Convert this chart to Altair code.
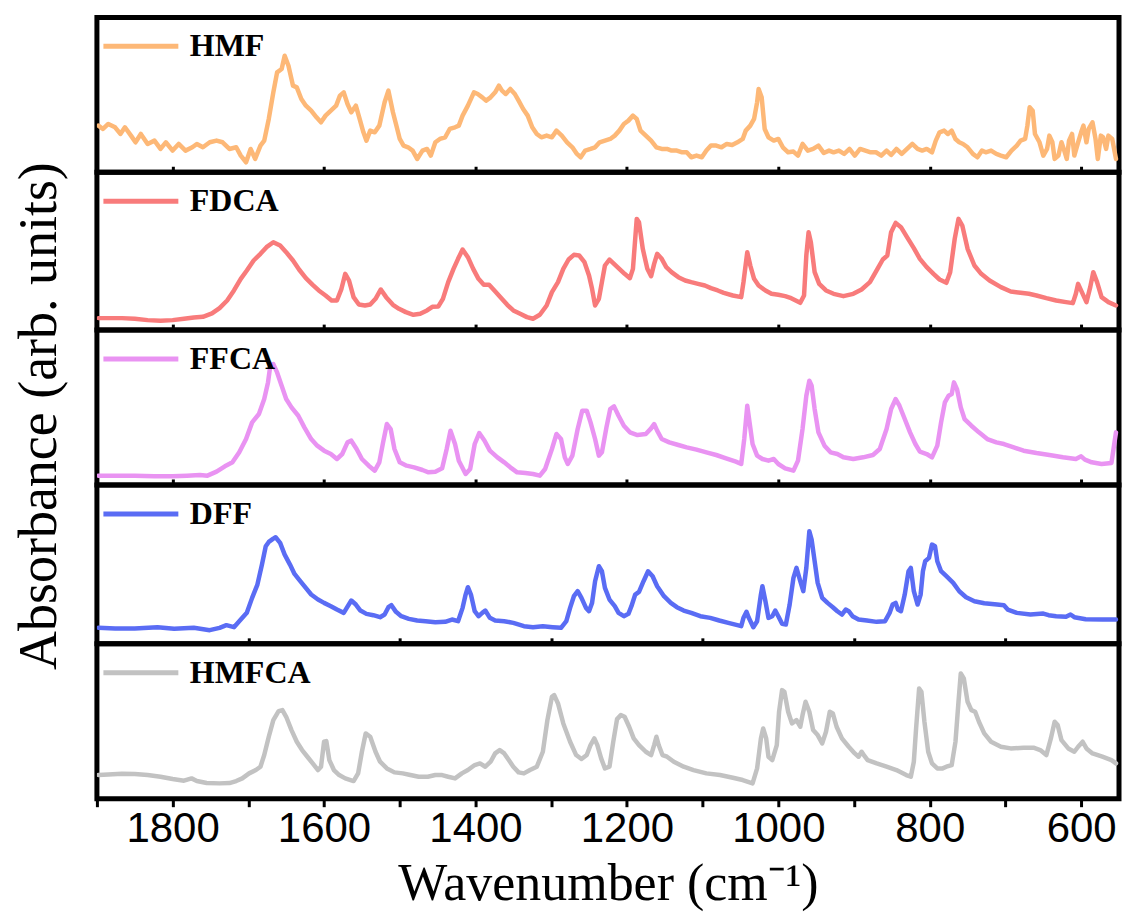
import altair as alt
import pandas as pd

# FTIR absorbance spectra (arbitrary units), wavenumber in cm-1
hmf_wn = [1898, 1892, 1885, 1876, 1869, 1863, 1855, 1849, 1842, 1833, 1824, 1816, 1809, 1800, 1792, 1783,
          1774, 1768, 1760, 1751, 1742, 1734, 1725, 1716, 1710, 1703, 1697, 1691, 1684, 1679, 1673, 1667,
          1662, 1656, 1652, 1647, 1641, 1636, 1630, 1624, 1617, 1610, 1604, 1598, 1591, 1584, 1579, 1574,
          1569, 1564, 1558, 1553, 1548, 1544, 1539, 1533, 1527, 1520, 1515, 1509, 1505, 1500, 1495, 1489,
          1483, 1477, 1470, 1464, 1459, 1453, 1447, 1440, 1434, 1427, 1422, 1417, 1410, 1402, 1397, 1391,
          1386, 1380, 1374, 1369, 1365, 1360, 1354, 1348, 1343, 1337, 1331, 1325, 1319, 1313, 1306, 1299,
          1293, 1286, 1279, 1272, 1266, 1261, 1255, 1248, 1242, 1236, 1229, 1222, 1216, 1210, 1204, 1198,
          1192, 1187, 1182, 1175, 1168, 1161, 1154, 1147, 1141, 1134, 1127, 1121, 1115, 1108, 1101, 1095,
          1089, 1082, 1075, 1068, 1061, 1054, 1047, 1043, 1037, 1032, 1028, 1026, 1022, 1018, 1013, 1006,
          1000, 994, 987, 980, 974, 968, 961, 954, 947, 940, 933, 927, 920, 913, 906, 899,
          892, 885, 878, 871, 864, 857, 851, 844, 837, 830, 823, 816, 810, 804, 797, 792,
          787, 781, 776, 771, 766, 761, 756, 750, 743, 737, 731, 726, 719, 712, 706, 699,
          692, 685, 680, 674, 671, 668, 664, 661, 655, 650, 645, 642, 638, 635, 630, 626,
          623, 619, 616, 612, 609, 604, 600, 597, 593, 590, 585, 581, 578, 574, 571, 567,
          564, 559, 554]
hmf_abs = [28, 26, 29, 27, 23, 27, 22, 18, 23, 17, 19, 14, 18, 13, 17, 13,
           15, 17, 15, 18, 19, 18, 14, 15, 10, 6, 14, 8, 16, 19, 32, 48,
           60, 62, 70, 64, 52, 51, 44, 40, 37, 33, 30, 34, 37, 40, 46, 48,
           41, 36, 40, 32, 24, 19, 25, 24, 28, 42, 49, 36, 29, 20, 16, 15,
           13, 8, 13, 14, 10, 18, 20, 21, 26, 27, 28, 34, 40, 48, 47, 45,
           43, 45, 48, 52, 49, 47, 50, 47, 43, 38, 34, 27, 23, 21, 22, 21,
           25, 22, 18, 15, 11, 9, 13, 14, 15, 18, 19, 20, 22, 25, 29, 31,
           34, 32, 25, 22, 19, 15, 14, 14, 13, 13, 12, 12, 9, 10, 9, 13,
           16, 16, 15, 17, 16.4, 18, 20, 25, 28, 32, 42, 50, 45, 26, 21, 19,
           20, 15, 12, 12.4, 10, 17, 13, 14, 16, 11.6, 13, 12, 13, 11, 14, 10,
           14, 13, 12, 12, 10, 13, 10.4, 14, 11, 14, 17, 14, 13, 14, 12, 19,
           24, 25, 23, 25, 20, 18, 17, 15, 11, 9, 13, 12, 13, 11, 10, 9,
           13, 16, 19, 20, 28, 39, 37, 23, 18, 10, 14, 22, 18, 8, 10, 18,
           14, 8, 19, 23, 10, 18, 24, 28, 18, 26, 30, 20, 8, 22, 21, 14,
           22, 20, 8]

fdca_wn = [1898, 1885, 1867, 1850, 1833, 1816, 1800, 1785, 1772, 1760, 1748, 1738, 1728, 1719, 1710, 1702,
           1693, 1684, 1676, 1667, 1658, 1650, 1641, 1633, 1624, 1615, 1607, 1598, 1590, 1583, 1577, 1572,
           1567, 1561, 1554, 1546, 1539, 1532, 1525, 1518, 1509, 1501, 1492, 1482, 1473, 1464, 1457, 1449,
           1443, 1436, 1429, 1423, 1417, 1410, 1403, 1396, 1389, 1382, 1375, 1367, 1358, 1350, 1341, 1332,
           1324, 1315, 1306, 1299, 1291, 1284, 1277, 1270, 1263, 1256, 1250, 1246, 1242, 1237, 1233, 1229,
           1223, 1217, 1210, 1203, 1196, 1192, 1187, 1184, 1179, 1173, 1168, 1164, 1160, 1154, 1148, 1141,
           1132, 1123, 1115, 1106, 1097, 1089, 1080, 1072, 1060, 1049, 1046, 1041, 1037, 1032, 1026, 1017,
           1009, 1000, 991, 983, 971, 966, 963, 960, 957, 952, 946, 937, 927, 914, 901, 890,
           879, 869, 862, 856, 851, 845, 838, 830, 821, 813, 804, 795, 787, 778, 773, 767,
           762, 757, 750, 741, 732, 721, 706, 693, 680, 669, 659, 646, 633, 620, 611, 607,
           604, 598, 593, 588, 584, 579, 573, 564, 554]
fdca_abs = [7.2, 7.2, 7.2, 6.8, 6, 5.6, 6, 6.8, 7.6, 8, 10, 13.2, 17.8, 23.8, 30.8, 35.8,
            41.8, 45.8, 49.8, 52.8, 50.8, 46.8, 41.8, 36.4, 31.2, 27.2, 23.8, 20.8, 17.8, 17.8, 24.8, 33.8,
            29.8, 19.8, 15.4, 14.8, 15.4, 18.8, 24.4, 19.8, 15.2, 12.8, 10.8, 9.2, 9.8, 11.8, 14, 14.2,
            18.8, 28.8, 36.8, 42.8, 48.4, 43.8, 36.8, 30.8, 27.2, 27.2, 23.8, 19.8, 15.2, 11.8, 9.8, 7.8,
            6.8, 9.2, 14.8, 22.8, 28.8, 36.8, 42.4, 45.2, 44.8, 40.8, 32.8, 24.8, 14.8, 18.8, 28.8, 38.8,
            42.4, 39.8, 36.8, 33.8, 31.2, 36.8, 66.8, 64.8, 48.8, 36.8, 32.4, 39.8, 45.8, 42.8, 37.8, 34.8,
            31.8, 29.8, 28.8, 27.8, 26.8, 25.2, 23.8, 22.4, 20.8, 19.8, 28.8, 46.8, 38.8, 30.8, 26.8, 23.8,
            21.8, 21.2, 20.4, 19.2, 16.4, 20.8, 44.8, 58.8, 52.8, 34.8, 27.8, 23.8, 21.8, 20.4, 21.8, 24.4,
            28.8, 36.8, 42.4, 44.8, 58.8, 64.4, 61.8, 55.8, 49.2, 42.8, 37.8, 33.8, 30.4, 28.4, 34.8, 54.8,
            66.8, 62.8, 48.8, 38.8, 33.8, 29.8, 25.8, 23.2, 22.4, 21.8, 20.8, 19.2, 17.8, 16.8, 16.2, 21.8,
            27.8, 21.8, 16.8, 25.8, 34.8, 28.8, 19.8, 16.8, 14.8]

ffca_wn = [1898, 1876, 1850, 1824, 1800, 1781, 1764, 1754, 1742, 1731, 1721, 1712, 1703, 1695, 1686, 1679,
           1674, 1671, 1667, 1662, 1656, 1650, 1643, 1634, 1626, 1617, 1609, 1600, 1591, 1583, 1576, 1569,
           1564, 1557, 1550, 1541, 1533, 1527, 1522, 1517, 1512, 1507, 1500, 1491, 1481, 1470, 1462, 1453,
           1444, 1438, 1433, 1427, 1422, 1413, 1407, 1401, 1395, 1388, 1381, 1371, 1362, 1354, 1345, 1334,
           1324, 1315, 1308, 1299, 1293, 1287, 1282, 1278, 1272, 1265, 1259, 1253, 1248, 1242, 1237, 1233,
           1227, 1222, 1217, 1211, 1204, 1196, 1186, 1175, 1168, 1164, 1160, 1154, 1144, 1132, 1121, 1108,
           1095, 1082, 1069, 1056, 1049, 1045, 1041, 1038, 1034, 1028, 1021, 1013, 1006, 1000, 991, 980,
           974, 968, 963, 959, 956, 952, 947, 939, 931, 922, 914, 901, 888, 875, 866, 857,
           851, 845, 840, 833, 826, 819, 813, 804, 797, 790, 785, 780, 775, 771, 768, 764,
           759, 754, 745, 735, 724, 712, 702, 689, 676, 659, 642, 624, 607, 600, 595, 586,
           573, 560, 554]
ffca_abs = [5.6, 5.6, 5.6, 5.2, 5.2, 5.6, 6, 5.6, 8, 11.2, 13.6, 19.6, 27.6, 37.6, 42.6, 51.6,
            61.6, 71.6, 72.6, 67.6, 59.6, 51.6, 46.6, 41.6, 34.6, 27.6, 23.6, 20.6, 18.6, 15.6, 18.6, 25.6,
            26.6, 21.6, 15.6, 11.6, 8.6, 13.6, 25.6, 36.6, 33.6, 21.6, 13.6, 11.6, 10.6, 9, 7.6, 8,
            10, 21.6, 32.6, 24.6, 14.6, 6.6, 9.6, 24.6, 31.2, 26.6, 20.6, 16.6, 13.6, 10.6, 7.6, 7.2,
            6.6, 5.6, 9.6, 21.6, 30.6, 27.6, 16.6, 12.6, 17.6, 33.6, 44.6, 44.6, 37.6, 27.6, 17.6, 19.6,
            34.6, 45.6, 47.2, 41.6, 35.6, 31.6, 30, 30.6, 34, 36.6, 32.6, 27.6, 25.6, 24, 22.6, 21.2,
            19.6, 18, 16, 14, 12.6, 27.6, 47.6, 37.6, 24.6, 17.6, 15.6, 14.6, 15.6, 12.6, 10, 8.6,
            14.6, 33.6, 53.6, 62.6, 59.6, 45.6, 31.6, 23.6, 19.6, 18.6, 16.6, 15.6, 16.6, 18, 21.6, 33.6,
            45.6, 51.6, 47.6, 39.6, 31.6, 24.6, 20, 18.6, 16.6, 23.6, 37.6, 49.6, 53.6, 54.6, 61.6, 57.6,
            46.6, 39.6, 35.6, 31.6, 27.6, 25.6, 24.6, 22.6, 20.6, 19.2, 18, 16.6, 15.6, 17.2, 15.2, 13.6,
            12.6, 13.2, 31.6]

dff_wn = [1898, 1876, 1850, 1820, 1798, 1772, 1751, 1738, 1729, 1719, 1710, 1702, 1695, 1688, 1682, 1677,
          1673, 1667, 1664, 1658, 1652, 1645, 1639, 1633, 1626, 1617, 1608, 1600, 1591, 1583, 1574, 1570,
          1564, 1558, 1552, 1544, 1535, 1526, 1520, 1515, 1511, 1505, 1498, 1488, 1477, 1466, 1453, 1440,
          1431, 1423, 1417, 1413, 1410, 1406, 1401, 1396, 1391, 1387, 1381, 1374, 1362, 1350, 1336, 1324,
          1311, 1298, 1287, 1280, 1275, 1270, 1265, 1260, 1254, 1250, 1246, 1242, 1237, 1233, 1229, 1223,
          1216, 1211, 1204, 1198, 1194, 1189, 1184, 1178, 1172, 1166, 1160, 1151, 1142, 1134, 1125, 1115,
          1103, 1090, 1078, 1066, 1054, 1049, 1046, 1042, 1039, 1033, 1028, 1023, 1021, 1017, 1013, 1008,
          1004, 1000, 995, 990, 985, 980, 976, 971, 967, 963, 959, 956, 952, 948, 942, 935,
          928, 922, 916, 911, 907, 902, 894, 883, 870, 859, 853, 849, 845, 842, 838, 833,
          828, 825, 821, 816, 812, 809, 806, 801, 797, 793, 790, 785, 778, 769, 761, 752,
          741, 728, 711, 702, 697, 685, 667, 650, 643, 633, 620, 614, 609, 594, 572, 554]
dff_abs = [9.6, 9.2, 9.2, 10, 9, 9.6, 8.2, 9.6, 11.2, 10, 14.6, 18.6, 27.6, 35.6, 47.6, 58.6,
           61.2, 63.2, 64, 60.6, 53.6, 47.6, 42, 38.6, 34.6, 29.6, 26.6, 24.6, 22.6, 20.6, 18.6, 21.6,
           26, 23.6, 20, 18, 17.2, 16, 17.6, 22, 23.2, 19.2, 16.6, 15, 14, 13.6, 13, 13.2,
           14.6, 13.6, 21.6, 29.6, 34, 29.6, 19.6, 16.6, 18.6, 20, 15.6, 14, 13.6, 12.6, 10.6, 10,
           10.6, 10, 9.6, 13.6, 21.6, 28.6, 31.6, 27.6, 21.6, 19.6, 24.6, 37.6, 46.6, 43.6, 33.6, 26.6,
           22.6, 18.6, 16.6, 18, 22.6, 29.6, 31.2, 37.6, 43.6, 40.6, 34.6, 28.6, 24.6, 22, 20, 18.6,
           16.6, 15.6, 14, 12.6, 11.2, 10.6, 15.6, 19.2, 15.6, 10, 13.6, 29.6, 34.6, 25.6, 15.6, 16.6,
           20, 16.6, 12, 11.6, 23.6, 39.6, 45.6, 37.6, 31.6, 45.6, 67.6, 62.6, 49.6, 36.6, 27.6, 24.6,
           22, 19.6, 17.6, 20.6, 19.6, 16.6, 14.6, 14, 13.2, 13.6, 18.6, 23.6, 24.6, 20.6, 19.6, 29.6,
           43.6, 45.6, 31.6, 23.6, 29.6, 43.6, 49.6, 51.6, 59.6, 58.6, 49.6, 43.6, 40.6, 36.6, 31.6, 28,
           25.6, 24.4, 23.6, 23.2, 20.6, 18.6, 17.6, 18.2, 17.2, 16.6, 16.2, 17.6, 16, 14.8, 14.6, 14.6]

hmfca_wn = [1898, 1885, 1867, 1850, 1833, 1816, 1800, 1785, 1775, 1768, 1755, 1738, 1725, 1716, 1708, 1699,
            1690, 1684, 1679, 1673, 1667, 1660, 1655, 1650, 1643, 1636, 1629, 1622, 1615, 1608, 1604, 1600,
            1597, 1593, 1587, 1580, 1572, 1561, 1555, 1550, 1545, 1539, 1532, 1526, 1517, 1507, 1496, 1486,
            1475, 1463, 1453, 1444, 1436, 1427, 1418, 1410, 1401, 1394, 1387, 1380, 1374, 1368, 1362, 1356,
            1350, 1343, 1336, 1328, 1319, 1311, 1305, 1299, 1296, 1291, 1284, 1275, 1267, 1260, 1253, 1248,
            1243, 1239, 1234, 1229, 1223, 1218, 1213, 1208, 1203, 1197, 1191, 1184, 1175, 1168, 1164, 1161,
            1158, 1153, 1147, 1138, 1125, 1112, 1095, 1077, 1060, 1047, 1034, 1028, 1023, 1020, 1016, 1013,
            1008, 1002, 999, 995, 992, 987, 982, 976, 971, 968, 964, 959, 954, 948, 942, 937,
            932, 928, 923, 916, 907, 899, 894, 890, 887, 882, 870, 857, 844, 831, 825, 821,
            818, 814, 811, 807, 802, 797, 790, 783, 778, 771, 766, 762, 759, 755, 750, 745,
            740, 735, 728, 719, 706, 693, 676, 663, 654, 646, 640, 635, 631, 626, 617, 609,
            604, 598, 593, 585, 572, 560, 554]
hmfca_abs = [14.2, 14.6, 15, 14.8, 14.2, 13.2, 11.8, 10.8, 12.2, 10.6, 9.4, 9.2, 9.4, 10.6, 12.2, 15.2,
             17.2, 19.2, 26.2, 37.2, 47.2, 52.6, 53.2, 49.2, 41.2, 34.2, 29.2, 25.2, 21.2, 17.2, 19.2, 34.2,
             34.6, 23.2, 17.2, 14.2, 12.2, 10.6, 15.2, 28.2, 39.2, 37.2, 28.2, 22.2, 18.2, 15.8, 15.2, 14.2,
             13.2, 13.2, 14.2, 14.2, 13.2, 12.2, 15.2, 17.2, 20.2, 21.2, 19.2, 22.2, 27.2, 29.2, 27.2, 23.2,
             19.2, 15.8, 15.2, 17.2, 19.2, 28.2, 47.2, 61.2, 62.2, 57.2, 45.2, 34.2, 26.2, 23.8, 26.2, 32.2,
             36.2, 32.2, 24.2, 18.2, 19.2, 34.2, 47.8, 50.2, 49.2, 43.2, 36.2, 32.2, 28.2, 26.2, 32.2, 37.2,
             32.2, 26.2, 25.2, 22.2, 19.2, 17.2, 15.2, 14.2, 12.6, 11.2, 9.2, 18.2, 36.2, 42.2, 36.2, 25.2,
             23.2, 32.2, 52.2, 65.2, 64.2, 52.2, 45.2, 47.2, 43.2, 50.2, 58.2, 52.2, 41.2, 38.2, 33.2, 40.2,
             52.2, 51.2, 43.2, 36.2, 31.2, 27.2, 25.2, 28.2, 26.2, 23.2, 21.2, 19.2, 17.2, 14.2, 13.2, 22.2,
             42.2, 66.2, 64.2, 46.2, 28.2, 21.2, 18.2, 18.2, 19.2, 20.2, 34.2, 58.2, 75.2, 72.2, 58.2, 53.2,
             52.2, 46.2, 39.2, 34.2, 31.2, 30.2, 30.6, 30.6, 29.2, 26.2, 36.2, 46.2, 44.2, 35.2, 30.2, 28.2,
             31.2, 34.2, 30.2, 27.2, 25.2, 23.2, 21.2]

names = ["HMF", "FDCA", "FFCA", "DFF", "HMFCA"]
colors = ["#FDB877", "#F87B7B", "#E993F2", "#5A6CF4", "#C2C2C2"]
panel_heights = [155, 158, 155, 159, 155]
even_ticks = [1800, 1600, 1400, 1200, 1000, 800, 600]
odd_ticks = [1700, 1500, 1300, 1100, 900, 700]
all_ticks = list(range(1900, 599, -100))

series = [
    (hmf_wn, hmf_abs),
    (fdca_wn, fdca_abs),
    (ffca_wn, ffca_abs),
    (dff_wn, dff_abs),
    (hmfca_wn, hmfca_abs),
]
inner_ticks = [even_ticks, even_ticks, even_ticks, odd_ticks, None]

WIDTH = 1023
SERIF = "Liberation Serif"
SANS = "Liberation Sans"

panels = []
for i, (name, color, h, (wn, ab), ticks) in enumerate(
        zip(names, colors, panel_heights, series, inner_ticks)):
    df = pd.DataFrame({"wavenumber": wn, "absorbance": ab, "sample": name})
    is_bottom = i == len(names) - 1

    if is_bottom:
        x_axis = alt.Axis(
            values=all_ticks,
            labelExpr="datum.value % 200 == 0 ? datum.label : ''",
            format="d",
            title="Wavenumber (cm\u207b\u00b9)",
            domain=False, grid=False,
            tickSize=8, tickWidth=3, tickColor="black",
            labelFont=SANS, labelFontSize=42, labelColor="black", labelPadding=2,
            titleFont=SERIF, titleFontSize=52, titleFontWeight="normal",
            titleColor="black", titlePadding=9,
        )
    else:
        x_axis = alt.Axis(
            values=ticks, labels=False, title=None, domain=False, grid=False,
            tickSize=6, tickWidth=3, tickColor="black", offset=-6,
        )

    if i == 2:
        y_axis = alt.Axis(
            title="Absorbance (arb. units)", labels=False, ticks=False,
            domain=False, grid=False,
            titleFont=SERIF, titleFontSize=54, titleFontWeight="normal",
            titleColor="black", titlePadding=30, titleY=h / 2 + 8,
        )
    else:
        y_axis = None

    chart = alt.Chart(df).mark_line(
        strokeWidth=4.5, clip=True, strokeJoin="round", strokeCap="round"
    ).encode(
        x=alt.X("wavenumber:Q",
                scale=alt.Scale(domain=[550, 1900], reverse=True, nice=False, zero=False),
                axis=x_axis),
        y=alt.Y("absorbance:Q",
                scale=alt.Scale(domain=[0, h * 0.6], nice=False, zero=False),
                axis=y_axis),
        color=alt.Color(
            "sample:N",
            scale=alt.Scale(domain=[name], range=[color]),
            legend=alt.Legend(
                orient="none", legendX=4, legendY=-11, title=None,
                symbolType="stroke", symbolSize=5625, symbolStrokeWidth=5,
                labelFont=SERIF, labelFontWeight="bold", labelFontSize=32,
                labelColor="black", labelOffset=9, padding=0,
            ),
        ),
    ).properties(width=WIDTH, height=h)
    panels.append(chart)

chart = alt.vconcat(*panels, spacing=0, bounds="flush").resolve_scale(
    color="independent"
).configure_view(
    stroke="black", strokeWidth=5
).properties(
    padding={"left": 10, "top": 3, "right": 2, "bottom": 2},
    background="white",
)

chart.save("out.html", embed_options={"renderer": "svg", "actions": False})
